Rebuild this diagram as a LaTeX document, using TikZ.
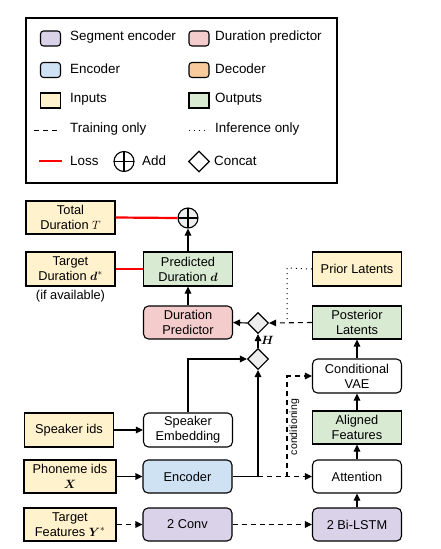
\documentclass[tikz,border=0pt]{standalone}
\usepackage{fontspec}
\setmainfont{Liberation Sans}
\usepackage{amsmath}
\usetikzlibrary{shapes.geometric,arrows.meta}
\definecolor{segpurple}{HTML}{D9D2E9}
\definecolor{durpink}{HTML}{F4CCCC}
\definecolor{encblue}{HTML}{CFE2F3}
\definecolor{decorange}{HTML}{F9CB9C}
\definecolor{inyellow}{HTML}{FFF2CC}
\definecolor{outgreen}{HTML}{D9EAD3}
\definecolor{lossred}{HTML}{FF0000}
\definecolor{opgray}{HTML}{EEEEEE}
\begin{document}
\begin{tikzpicture}[x=1pt,y=-1pt,
  font=\fontsize{12.8}{15}\selectfont,
  box/.style={draw, line width=1.1pt, minimum width=89pt, minimum height=33pt, align=center, inner sep=1pt},
  rbox/.style={box, rounded corners=5pt},
  inp/.style={box, fill=inyellow},
  outp/.style={box, fill=outgreen},
  swatch/.style={draw, line width=1.1pt, minimum width=20pt, minimum height=15pt, inner sep=0pt},
  rswatch/.style={swatch, rounded corners=3pt},
  conc/.style={diamond, draw, fill=opgray, line width=1.1pt, minimum size=21pt, inner sep=0pt},
  addop/.style={circle, draw, fill=opgray, line width=1.1pt, minimum size=20pt, inner sep=0pt,
    path picture={\draw[line width=1.1pt] (path picture bounding box.north) -- (path picture bounding box.south)
      (path picture bounding box.west) -- (path picture bounding box.east);}},
  arr/.style={line width=1.1pt, -{Triangle[length=7pt,width=6.5pt]}},
  plain/.style={line width=1.1pt},
  loss/.style={line width=2.2pt, lossred},
  lbl/.style={anchor=west, inner sep=0pt, font=\fontsize{13.4}{15}\selectfont}
]
\useasboundingbox (0,0) rectangle (440,549);

% ---------------- Legend ----------------
\node[draw, line width=1.2pt, minimum width=311pt, minimum height=165pt, inner sep=0pt] (legend) at (181.5,100.5) {};
\node[rswatch, fill=segpurple] (l1) at (50.5,38.5) {};
\node[lbl] (t1) at (70,37.5) {Segment encoder};
\node[rswatch, fill=durpink] (l2) at (199,38.5) {};
\node[lbl] (t2) at (215,37.5) {Duration predictor};
\node[rswatch, fill=encblue] (l3) at (50.5,70) {};
\node[lbl] (t3) at (70,69) {Encoder};
\node[rswatch, fill=decorange] (l4) at (199,70) {};
\node[lbl] (t4) at (215,69) {Decoder};
\node[swatch, fill=inyellow] (l5) at (50.5,100.5) {};
\node[lbl] (t5) at (70,99.5) {Inputs};
\node[swatch, fill=outgreen] (l6) at (199,100.5) {};
\node[lbl] (t6) at (215,99.5) {Outputs};
\coordinate (d1a) at (34,130.5);
\coordinate (d1b) at (59,130.5);
\draw[plain, dashed, dash pattern=on 5pt off 4pt] (d1a) -- (d1b);
\node[lbl] (t7) at (70,129.5) {Training only};
\coordinate (d2a) at (189,130.5);
\coordinate (d2b) at (209,130.5);
\draw[line width=1pt, dash pattern=on 1pt off 4pt] (d2a) -- (d2b);
\node[lbl] (t8) at (215,129.5) {Inference only};
\coordinate (r1a) at (39,161);
\coordinate (r1b) at (62,161);
\draw[loss] (r1a) -- (r1b);
\node[lbl] (t9) at (70,160.5) {Loss};
\node[addop, fill=white] (ladd) at (124,161.5) {};
\node[lbl] (t10) at (142,160.5) {Add};
\node[conc, fill=white] (lcat) at (199,161.5) {};
\node[lbl] (t11) at (214,160.5) {Concat};

% ---------------- Main diagram ----------------
\node[inp] (total) at (70.5,217.5) {Total\\Duration $T$};
\node[addop] (add) at (188,218) {};
\node[inp, minimum height=34pt] (target) at (70.5,269) {Target\\Duration $\boldsymbol{d}^{*}$};
\node (ifav) at (70.5,296) {(if available)};
\node[outp, minimum height=34pt] (pred) at (188,269) {Predicted\\Duration $\boldsymbol{d}$};
\node[inp, minimum height=34pt] (prior) at (357,269) {Prior Latents};
\node[rbox, fill=durpink] (dp) at (188,322.5) {Duration\\Predictor};
\node[outp] (post) at (357,322.5) {Posterior\\Latents};
\node[conc] (cat1) at (258,323) {};
\node[conc] (cat2) at (258,359) {};
\node[rbox, fill=white, minimum height=34pt] (cvae) at (357,376) {Conditional\\VAE};
\node[outp] (aligned) at (357,427.5) {Aligned\\Features};
\node[rbox, fill=white] (att) at (357,476.5) {Attention};
\node[rbox, fill=segpurple] (lstm) at (357,524.5) {2 Bi-LSTM};
\node[inp, minimum height=34pt] (spk) at (69,430) {Speaker ids};
\node[rbox, fill=white, minimum height=34pt] (spkemb) at (188,430) {Speaker\\Embedding};
\node[inp, minimum width=92pt] (phon) at (70,476.5) {Phoneme ids\\$\boldsymbol{X}$};
\node[rbox, fill=encblue] (enc) at (187.5,476.5) {Encoder};
\node[inp, minimum width=92pt] (tfeat) at (70,524.5) {Target\\Features $\boldsymbol{Y}^{*}$};
\node[rbox, fill=segpurple] (conv) at (187.5,524.5) {2 Conv};

% connectors
\coordinate (encj) at (258,476.5);
\coordinate (condx) at (287,476.5);
\coordinate (condtop) at (287,376);
\coordinate (priorj) at (287,268);
\coordinate (postj) at (287,323);

\draw[loss] (total.east) -- (add.west);
\draw[loss] (target.east) -- (pred.west);
\draw[arr] (pred.north) -- (add.south);
\draw[arr] (dp.north) -- (pred.south);
\draw[arr] (cat1.west) -- (dp.east);
\draw[arr] (cat2.north) -- (cat1.south);
\node[anchor=west, inner sep=0pt] (hlab) at (261,340) {$\boldsymbol{H}$};
\draw[arr, dashed, dash pattern=on 5pt off 4pt] (post.west) -- (cat1.east);
\draw[line width=1pt, dash pattern=on 1pt off 4pt] (prior.west) -- (priorj) -- (postj);
\draw[arr] (spkemb.north) |- (cat2.west);
\draw[plain] (enc.east) -- (encj);
\draw[arr] (encj) -- (cat2.south);
\draw[arr, dashed, dash pattern=on 5pt off 4pt] (encj) -- (att.west);
\draw[arr, dashed, dash pattern=on 5pt off 4pt] (condx) -- (condtop) -- (cvae.west);
\node[rotate=90, font=\fontsize{10.5}{12}\selectfont, inner sep=0pt] (condlab) at (294.5,427) {conditioning};
\draw[arr] (cvae.north) -- (post.south);
\draw[arr] (aligned.north) -- (cvae.south);
\draw[arr] (att.north) -- (aligned.south);
\draw[arr] (lstm.north) -- (att.south);
\draw[arr, dashed, dash pattern=on 5pt off 4pt] (conv.east) -- (lstm.west);
\draw[arr, dashed, dash pattern=on 5pt off 4pt] (tfeat.east) -- (conv.west);
\draw[arr] (phon.east) -- (enc.west);
\draw[arr] (spk.east) -- (spkemb.west);
\end{tikzpicture}
\end{document}
